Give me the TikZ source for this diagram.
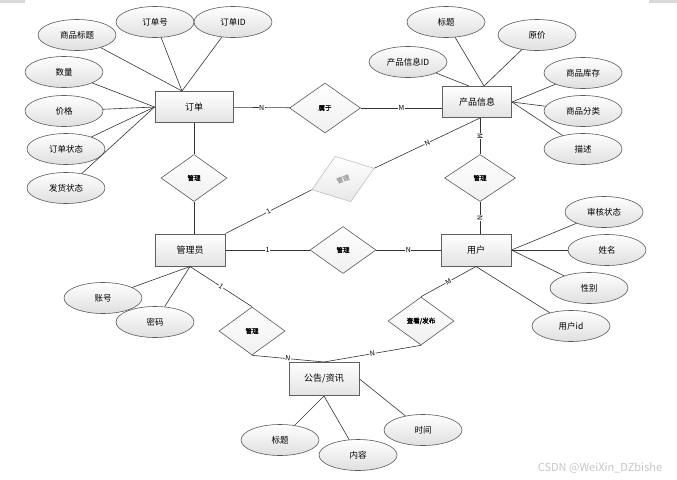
\documentclass[tikz,border=0pt]{standalone}
\usepackage{fontspec}
\setmainfont{Noto Sans CJK SC}
\newfontfamily\relfont[FakeBold=1.5]{Noto Sans CJK SC}
\usetikzlibrary{shapes.geometric,positioning}

\begin{document}
\begin{tikzpicture}[x=1pt, y=-1pt,
    entity/.style={rectangle, draw=gray!75!black, line width=1pt, top color=white, bottom color=gray!22, minimum width=70pt, minimum height=32pt, font=\fontsize{9}{10}\selectfont},
    attr/.style={ellipse, draw=gray!70!black, line width=0.6pt, top color=white, bottom color=gray!25, minimum width=78pt, minimum height=31pt, inner sep=0pt, font=\fontsize{8.5}{10}\selectfont},
    rel/.style={diamond, draw=gray!70!black, line width=0.6pt, top color=white, bottom color=gray!12, minimum width=66pt, minimum height=47pt, inner sep=0pt, font=\relfont\fontsize{6.5}{7}\selectfont},
    link/.style={draw=gray!40!black, line width=0.6pt},
    card/.style={fill=white, inner sep=0.5pt, font=\fontsize{7}{8}\selectfont}
]
\useasboundingbox (0,0) rectangle (677,479);
\fill[gray!30] (0,0) rectangle (25,3);
\fill[gray!30] (649,0) rectangle (677,3);

% entities
\node[entity, minimum width=78pt, minimum height=31pt] (order) at (194,107) {订单};
\node[entity, minimum width=69pt, minimum height=31pt] (pinfo) at (477,102) {产品信息};
\node[entity] (admin) at (190,250) {管理员};
\node[entity] (user) at (476,250) {用户};
\node[entity, minimum height=33pt] (news) at (324,379) {公告/资讯};

% relations
\node[rel, minimum width=71pt, minimum height=50pt] (shuyu) at (325,108) {属于};
\node[rel] (m1) at (194,178) {管理};
\node[rel, minimum width=71pt] (m2) at (480,178) {管理};
\node[rel] (m3) at (343,250) {管理};
\node[rel, minimum height=48pt] (m4) at (252,331) {管理};
\node[rel, minimum height=48pt] (pub) at (421,321) {查看/发布};
\node[rel, rotate=19, draw=gray!50, bottom color=gray!18, text=gray!70, minimum height=48pt] (fav) at (343,179) {管理};

% attributes
\node[attr] (gtitle) at (77,35) {商品标题};
\node[attr] (ordno) at (155,22) {订单号};
\node[attr] (orderid) at (233,22) {订单ID};
\node[attr] (num) at (64,72) {数量};
\node[attr] (price) at (64,111) {价格};
\node[attr] (ostat) at (66,149) {订单状态};
\node[attr] (ship) at (66,188) {发货状态};

\node[attr] (ptitle) at (446,22) {标题};
\node[attr] (oprice) at (537,35) {原价};
\node[attr] (pid) at (408,62) {产品信息ID};
\node[attr] (stock) at (583,73) {商品库存};
\node[attr] (cat) at (583,111) {商品分类};
\node[attr] (desc) at (583,149) {描述};

\node[attr] (acc) at (103,298) {账号};
\node[attr] (pwd) at (155,322) {密码};

\node[attr] (audit) at (604,212) {审核状态};
\node[attr] (uname) at (607,250) {姓名};
\node[attr] (sex) at (589,288) {性别};
\node[attr] (uid) at (571,326) {用户id};

\node[attr] (ntitle) at (280,440) {标题};
\node[attr] (content) at (358,455) {内容};
\node[attr] (ntime) at (423,430) {时间};

% attribute links
\draw[link] (gtitle) -- ([xshift=-12pt]order.north);
\draw[link] (ordno) -- ([xshift=-12pt]order.north);
\draw[link] (orderid) -- ([xshift=-12pt]order.north);
\draw[link] (num) -- (order.west);
\draw[link] (price) -- (order.west);
\draw[link] (ostat) -- (order.west);
\draw[link] (ship) -- (order.west);

\draw[link] (pid) -- ([xshift=-8pt]pinfo.north);
\draw[link] (ptitle) -- ([xshift=7pt]pinfo.north);
\draw[link] (oprice) -- ([xshift=7pt]pinfo.north);
\draw[link] (stock) -- (pinfo.east);
\draw[link] (cat) -- (pinfo.east);
\draw[link] (desc) -- (pinfo.east);

\draw[link] (acc) -- (admin.south);
\draw[link] (pwd) -- (admin.south);

\draw[link] (audit) -- (user.east);
\draw[link] (uname) -- (user.east);
\draw[link] (sex) -- (user.east);
\draw[link] (uid) -- (user.south);

\draw[link] (ntitle) -- (news.south);
\draw[link] (content) -- (news.south);
\draw[link] (ntime) -- (news.east);

% relation links
\draw[link] (order) -- (shuyu) node[card, midway] {N};
\draw[link] (shuyu) -- (shuyu -| pinfo.west) node[card, midway] {M};
\draw[link] (order) -- (m1);
\draw[link] (m1) -- (m1 |- admin.north);
\draw[link] (m2 |- pinfo.south) -- (m2) node[card, midway, rotate=-90] {M};
\draw[link] (m2) -- (m2 |- user.north) node[card, midway, rotate=-90] {N};
\draw[link] (admin) -- (m3) node[card, midway] {1};
\draw[link] (m3) -- (user) node[card, midway] {N};
\draw[link] (admin.north east) -- (fav.west) node[card, midway, sloped] {1};
\draw[link] (fav.east) -- ([xshift=3pt]pinfo.south) node[card, midway, sloped] {N};
\draw[link] (admin.south) -- (m4.north) node[card, midway, sloped] {1};
\draw[link] (m4.south) -- (news.north) node[card, midway, sloped] {N};
\draw[link] (user.south) -- (pub.north) node[card, midway, sloped] {M};
\draw[link] (pub.south) -- (news.north) node[card, midway, sloped] {N};

\node[text=gray!45, font=\fontsize{11}{12}\selectfont] (mark) at (600,468) {CSDN @WeiXin\_DZbishe};

\end{tikzpicture}
\end{document}
